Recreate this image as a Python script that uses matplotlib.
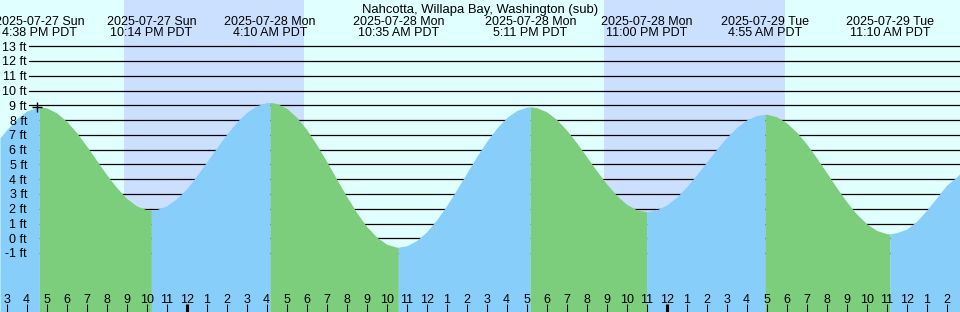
import numpy as np
import pandas as pd
import matplotlib
matplotlib.use("Agg")
import matplotlib.pyplot as plt
import matplotlib.dates as mdates
import matplotlib.transforms as mtransforms

plt.rcParams["font.family"] = ["Liberation Sans", "DejaVu Sans"]
plt.rcParams["font.size"] = 9

station = "Nahcotta, Willapa Bay, Washington (sub)"

# high / low tides (PDT)
extreme_times = ["2025-07-27 16:38", "2025-07-27 22:14", "2025-07-28 04:10", "2025-07-28 10:35",
                 "2025-07-28 17:11", "2025-07-28 23:00", "2025-07-29 04:55", "2025-07-29 11:10"]
extreme_heights = [8.9, 1.9, 9.2, -0.6, 8.9, 1.8, 8.4, 0.3]
extreme_is_high = [True, False, True, False, True, False, True, False]

# tide height read every half hour, starting 2025-07-27 15:00
reading_start = "2025-07-27 15:00"
reading_heights = [
    7.34, 8.10, 8.62, 8.85, 8.83, 8.49, 7.92, 7.15,
    6.24, 5.27, 4.30, 3.43, 2.70, 2.19, 1.93, 1.94,
    2.20, 2.69, 3.35, 4.23, 5.17, 6.13, 7.05, 7.87,
    8.52, 8.98, 9.19, 9.13, 8.80, 8.19, 7.36, 6.33,
    5.20, 4.00, 2.83, 1.74, 0.79, 0.08, -0.40, -0.60,
    -0.51, -0.15, 0.44, 1.25, 2.21, 3.29, 4.41, 5.53,
    6.56, 7.46, 8.17, 8.65, 8.88, 8.85, 8.56, 8.04,
    7.32, 6.46, 5.52, 4.57, 3.68, 2.90, 2.30, 1.93,
    1.80, 1.92, 2.26, 2.79, 3.49, 4.30, 5.17, 6.04,
    6.83, 7.51, 8.02, 8.32, 8.40, 8.23, 7.81, 7.18,
    6.38, 5.44, 4.44, 3.42, 2.47, 1.64, 0.98, 0.53,
    0.31, 0.38, 0.62, 1.15, 1.90, 2.75, 3.60, 4.15,
]

window_start = "2025-07-27 14:40"
window_end = "2025-07-29 14:40"
edge_heights = [6.8, 4.4]

night_starts = ["2025-07-27 20:52", "2025-07-28 20:52"]
night_ends = ["2025-07-28 05:52", "2025-07-29 05:55"]

now_time = "2025-07-27 16:30"
now_height = 8.9

levels_ft = list(range(-1, 14))

BG = "#E0FFFF"
NIGHT = "#CBE0FF"
RISING = "#87CEFA"
FALLING = "#7CCD7C"

W, H = 960, 312
PX_PER_FT = 14.77
ZERO_PX = 238.3


def to_num(values):
    return mdates.date2num(pd.to_datetime(values).to_pydatetime())


ext_x = to_num(extreme_times)
read_x = to_num(pd.date_range(reading_start, periods=len(reading_heights), freq="30min"))
hour_idx = pd.date_range(reading_start, window_end, freq="h")
hour_x = to_num(hour_idx)
x0, x1 = to_num([window_start, window_end])

xs = np.concatenate([[x0], read_x, ext_x, [x1]])
ys = np.concatenate([[edge_heights[0]], reading_heights, extreme_heights, [edge_heights[1]]])
order = np.argsort(xs)
xs, ys = xs[order], ys[order]

fig = plt.figure(figsize=(W / 100, H / 100), dpi=100, facecolor=BG)
ax = fig.add_axes([0, 0, 1, 1])
ax.axis("off")
ax.set_xlim(x0, x1)
y_bottom = (ZERO_PX - H) / PX_PER_FT
ax.set_ylim(y_bottom, ZERO_PX / PX_PER_FT)

# night
for s, e in zip(to_num(night_starts), to_num(night_ends)):
    ax.axvspan(s, e, color=NIGHT, lw=0, zorder=0)

# level lines
for lv in levels_ft:
    ax.axhline(lv, xmin=29 / W, xmax=1, color="black", lw=0.9, zorder=1)

# water, coloured by rising / falling
bounds = np.concatenate([[x0], ext_x, [x1]])
ends_high = extreme_is_high + [not extreme_is_high[-1]]
for i in range(len(bounds) - 1):
    m = (xs >= bounds[i]) & (xs <= bounds[i + 1])
    c = RISING if ends_high[i] else FALLING
    ax.fill_between(xs[m], ys[m], y_bottom, color=c, lw=0, zorder=2)

# level labels
lab_tr = mtransforms.blended_transform_factory(ax.transAxes, ax.transData) + \
    mtransforms.ScaledTranslation(0, -4.4 / 100, fig.dpi_scale_trans)
for lv in levels_ft:
    ax.text(27 / W, lv, f"{lv} ft", ha="right", va="baseline", transform=lab_tr, zorder=3)

# header
top_tr = mtransforms.blended_transform_factory(ax.transData, ax.transAxes)
ax.text(0.5, 1 - 12.7 / H, station, ha="center", va="baseline", fontsize=9.4,
        transform=ax.transAxes, zorder=3)
for t, x in zip(pd.to_datetime(extreme_times), ext_x):
    ax.text(x, 1 - 25 / H, t.strftime("%Y-%m-%d %a"), ha="center", va="baseline",
            transform=top_tr, zorder=3)
    ax.text(x, 1 - 36 / H, t.strftime("%-I:%M %p") + " PDT", ha="center", va="baseline",
            transform=top_tr, zorder=3)

# hour ticks and labels
for t, x in zip(hour_idx, hour_x):
    lw = 2.2 if t.hour == 0 else 0.75
    ax.vlines(x, 0, 8 / H, color="black", lw=lw, transform=top_tr, zorder=3)
    ax.text(x, 1 - 302.7 / H, t.strftime("%-I"), ha="center", va="baseline",
            transform=top_tr, zorder=3)

# current time marker
ax.plot(to_num([now_time]), [now_height], marker="+", color="black", ms=7, mew=1, zorder=4)

fig.savefig("out.png", dpi=100, facecolor=BG)
